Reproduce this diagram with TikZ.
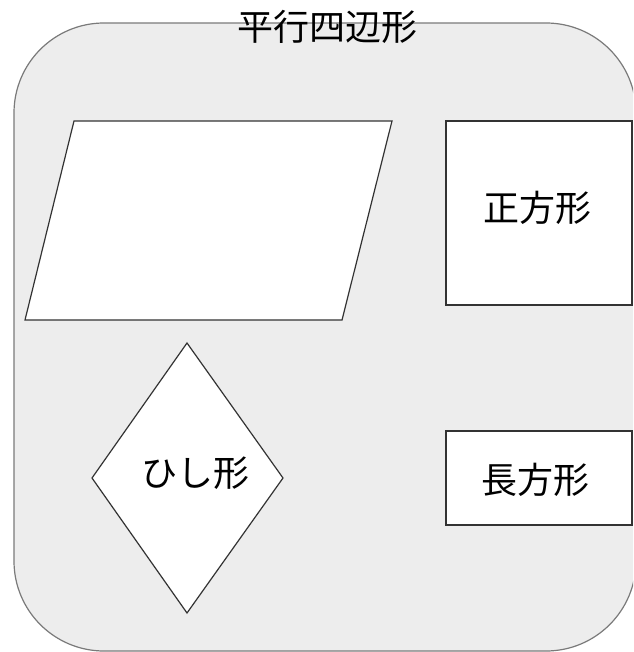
\documentclass[tikz,border=0pt]{standalone}
\usepackage{fontspec}
\newfontfamily\jp{Noto Sans CJK JP}
\definecolor{bgfill}{HTML}{EDEDED}
\definecolor{bgline}{HTML}{7A7A7A}
\definecolor{shline}{HTML}{333333}
\tikzset{
  shapebox/.style={draw=shline, fill=white, line width=1.2pt},
  lbl/.style={font=\jp\fontsize{36}{40}\selectfont, text=black, inner sep=0pt}
}
\begin{document}
\begin{tikzpicture}[x=1pt,y=-1pt]
\useasboundingbox (0,0) rectangle (633,652);
\begin{scope}
\clip (0,0) rectangle (633,652);
\draw[fill=bgfill, draw=bgline, line width=1.2pt, rounded corners=90pt] (14,23) rectangle (636,651);
\end{scope}
\node[lbl] (title) at (327,27) {平行四辺形};
\draw[shapebox] (74,121) -- (392,121) -- (342,320) -- (25,320) -- cycle;
\coordinate (para) at (208,220);
\draw[shapebox] (446,121) rectangle (632,305);
\node[lbl] (sq) at (537,208) {正方形};
\draw[shapebox] (187,343) -- (283,478) -- (187,613) -- (92,478) -- cycle;
\node[lbl] (rh) at (195,473) {ひし形};
\draw[shapebox] (446,431) rectangle (632,525);
\node[lbl] (rect) at (535,480) {長方形};
\end{tikzpicture}
\end{document}
